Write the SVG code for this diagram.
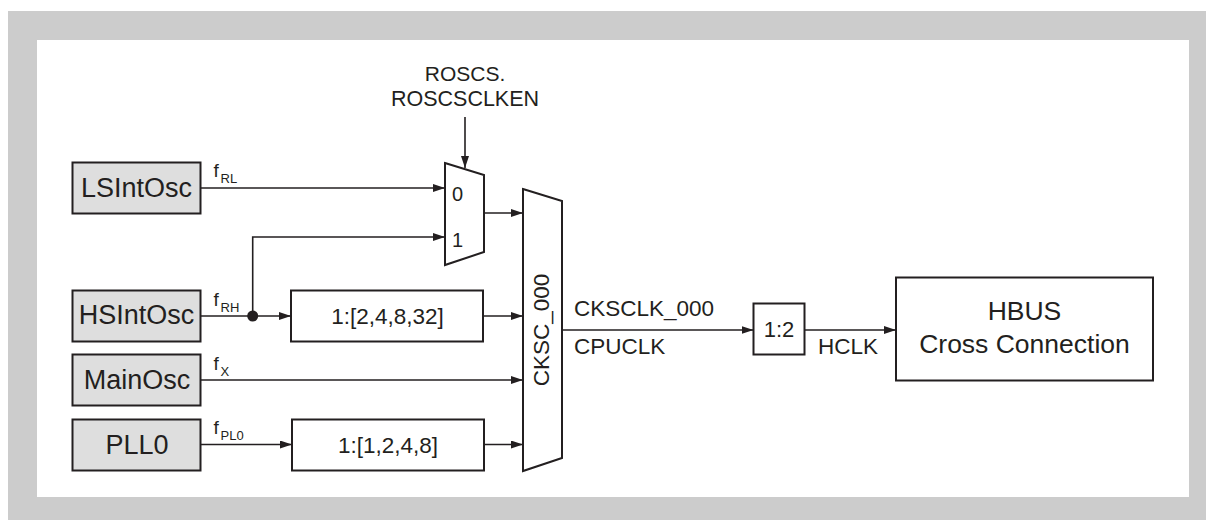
<svg xmlns="http://www.w3.org/2000/svg" width="1206" height="520" viewBox="0 0 1206 520">
<style>
.t{font-family:"Liberation Sans",Arial,sans-serif;fill:#231f20}
.osc{fill:#dedede;stroke:#231f20;stroke-width:2}
.box{fill:#fff;stroke:#231f20;stroke-width:2}
.ln{fill:none;stroke:#231f20;stroke-width:1.6}
</style>
<defs>
<marker id="ah" markerUnits="userSpaceOnUse" markerWidth="12" markerHeight="8" refX="12" refY="4" orient="auto">
<path d="M0,0 L12,4 L0,8 z" fill="#231f20"/>
</marker>
</defs>
<rect x="0" y="0" width="1206" height="520" fill="#fff"/>
<rect x="8" y="11" width="1198" height="509" fill="#cccccc"/>
<rect x="37" y="40" width="1152" height="457" fill="#fff"/>

<g id="LSIntOsc"><rect class="osc" x="72.5" y="162.5" width="128" height="51"/><text class="t" x="136.5" y="196.5" font-size="27" text-anchor="middle">LSIntOsc</text></g>
<g id="HSIntOsc"><rect class="osc" x="72.5" y="290.5" width="128" height="51"/><text class="t" x="136.5" y="324" font-size="27" text-anchor="middle">HSIntOsc</text></g>
<g id="MainOsc"><rect class="osc" x="72.5" y="354.5" width="128" height="51"/><text class="t" x="137" y="388.5" font-size="27" text-anchor="middle">MainOsc</text></g>
<g id="PLL0"><rect class="osc" x="72.5" y="419.5" width="128" height="51"/><text class="t" x="137" y="453.5" font-size="27" text-anchor="middle">PLL0</text></g>

<g id="div1"><rect class="box" x="291" y="290.5" width="192" height="51"/><text class="t" x="387.5" y="323.5" font-size="22.5" text-anchor="middle">1:[2,4,8,32]</text></g>
<g id="div2"><rect class="box" x="292" y="419.5" width="192" height="51"/><text class="t" x="388" y="452.5" font-size="22.5" text-anchor="middle">1:[1,2,4,8]</text></g>

<g id="mux1"><polygon class="box" points="445,163 484,175 484,252 445,265"/><text class="t" x="452" y="201" font-size="20">0</text><text class="t" x="452" y="247" font-size="20">1</text></g>
<g id="mux2"><polygon class="box" points="523,189 562,201 562,458 523,471"/><text class="t" transform="translate(549,330) rotate(-90)" font-size="22.5" text-anchor="middle">CKSC_000</text></g>

<g id="div12"><rect class="box" x="753.5" y="303.5" width="51" height="51"/><text class="t" x="779" y="336.5" font-size="22" text-anchor="middle">1:2</text></g>
<g id="HBUS"><rect class="box" x="896" y="277.5" width="257" height="103"/><text class="t" x="1024.5" y="320" font-size="26.5" text-anchor="middle">HBUS</text><text class="t" x="1024.5" y="353" font-size="26.5" text-anchor="middle">Cross Connection</text></g>

<g id="labels">
<text class="t" x="465" y="81" font-size="21" text-anchor="middle">ROSCS.</text>
<text class="t" x="465" y="105.5" font-size="21.5" text-anchor="middle">ROSCSCLKEN</text>
<text class="t" x="213.5" y="177" font-size="19">f</text><text class="t" x="220.5" y="183" font-size="13">RL</text>
<text class="t" x="213.5" y="305.5" font-size="19">f</text><text class="t" x="220.5" y="311.5" font-size="13">RH</text>
<text class="t" x="213.5" y="369.5" font-size="19">f</text><text class="t" x="220.5" y="375.5" font-size="13">X</text>
<text class="t" x="213.5" y="434" font-size="19">f</text><text class="t" x="220.5" y="440" font-size="13">PL0</text>
<text class="t" x="574" y="316" font-size="22.5">CKSCLK_000</text>
<text class="t" x="574" y="354" font-size="22.5">CPUCLK</text>
<text class="t" x="818" y="354" font-size="22.5">HCLK</text>
</g>

<g id="connectors">
<path class="ln" d="M200.5,188 H445" marker-end="url(#ah)"/>
<path class="ln" d="M200.5,316 H291" marker-end="url(#ah)"/>
<path class="ln" d="M252.7,316 V237 H445" marker-end="url(#ah)"/>
<circle cx="252.7" cy="316" r="5.5" fill="#231f20"/>
<path class="ln" d="M200.5,380 H523" marker-end="url(#ah)"/>
<path class="ln" d="M200.5,444.5 H292" marker-end="url(#ah)"/>
<path class="ln" d="M483,316 H523" marker-end="url(#ah)"/>
<path class="ln" d="M484,444.5 H523" marker-end="url(#ah)"/>
<path class="ln" d="M484,213 H523" marker-end="url(#ah)"/>
<path class="ln" d="M465,117 V168" marker-end="url(#ah)"/>
<path class="ln" d="M562,330 H753.5" marker-end="url(#ah)"/>
<path class="ln" d="M804.5,330 H896" marker-end="url(#ah)"/>
</g>
</svg>
